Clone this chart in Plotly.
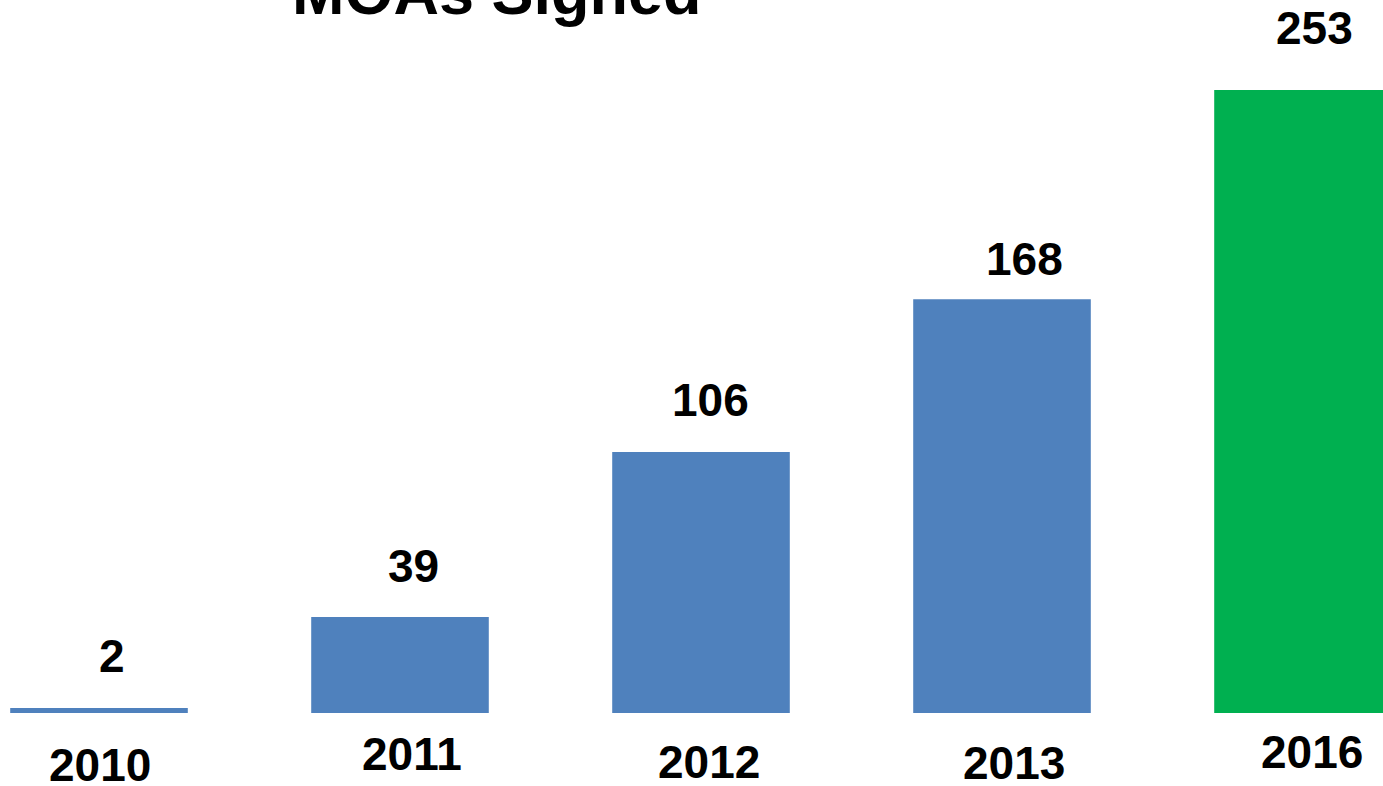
import plotly.graph_objects as go

years = ["2010", "2011", "2012", "2013", "2016"]
values = [2, 39, 106, 168, 253]
colors = ["#4F81BD", "#4F81BD", "#4F81BD", "#4F81BD", "#00B050"]
title_text = "MOAs Signed"

# styling offsets (pixels) for labels
val_xshift = [13, 13, 9, 22, 11]
val_yshift = [52, 51, 52, 40, 62]
year_xshift = [1, 12, 8, 12, 9]
year_yshift = [-52, -41, -49, -50, -39]

x = list(range(len(years)))

fig = go.Figure(go.Bar(
    x=x, y=values, marker_color=colors, width=0.59, marker_line_width=0,
    hoverinfo="skip",
))

FONT = "Liberation Sans, Arial, sans-serif"
anns = []
for i, (v, yr) in enumerate(zip(values, years)):
    anns.append(dict(x=i, y=v, xref="x", yref="y", text=f"<b>{v}</b>", showarrow=False,
                     xanchor="center", yanchor="middle", xshift=val_xshift[i], yshift=val_yshift[i],
                     font=dict(family=FONT, size=46, color="black")))
    anns.append(dict(x=i, y=0, xref="x", yref="y", text=f"<b>{yr}</b>", showarrow=False,
                     xanchor="center", yanchor="middle", xshift=year_xshift[i], yshift=year_yshift[i],
                     font=dict(family=FONT, size=46, color="black")))
anns.append(dict(x=497, y=1, xref="x domain" if False else "paper", yref="paper", text=f"<b>{title_text}</b>",
                 showarrow=False, xanchor="center", yanchor="bottom", yshift=-29,
                 font=dict(family=FONT, size=63, color="black")))
# convert title x to paper fraction
anns[-1]["x"] = 497 / 1383

fig.update_layout(
    width=1383, height=786,
    margin=dict(l=0, r=0, t=0, b=73),
    paper_bgcolor="white", plot_bgcolor="white",
    showlegend=False,
    xaxis=dict(range=[-99 / 301, (1383 - 99) / 301], visible=False, fixedrange=True),
    yaxis=dict(range=[0, 713 / (623 / 253)], visible=False, fixedrange=True),
    annotations=anns,
)

fig.write_html("out.html")
